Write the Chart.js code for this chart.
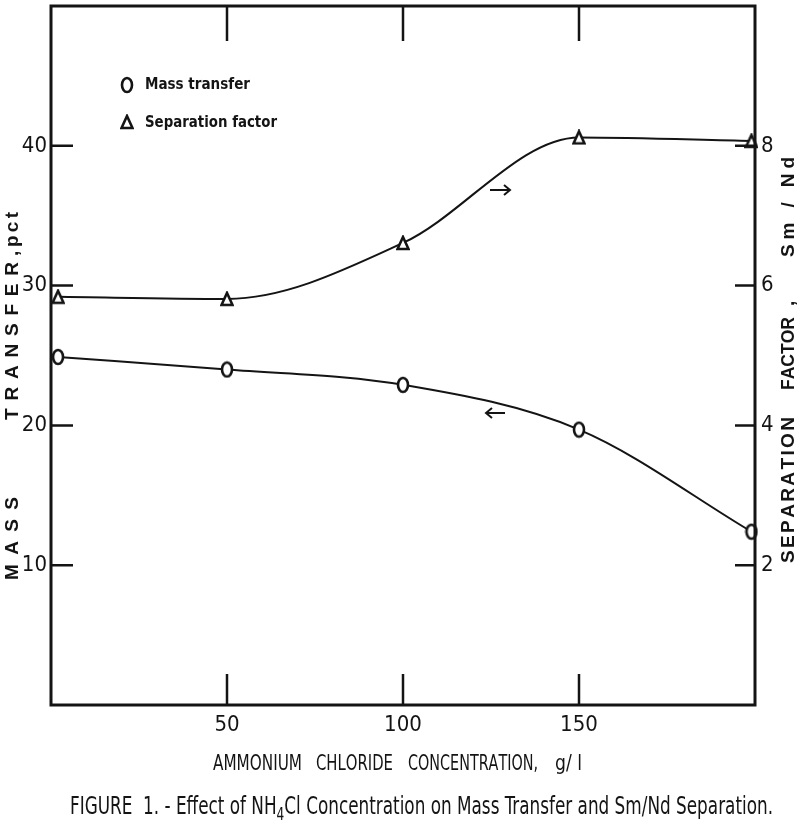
<!DOCTYPE html>
<html>
<head>
<meta charset="utf-8">
<script src="https://cdn.jsdelivr.net/npm/chart.js@4.4.1/dist/chart.umd.min.js"></script>
<style>
  html, body { margin: 0; padding: 0; background: #fff; }
  canvas { display: block; }
</style>
</head>
<body>
<canvas id="chart" width="800" height="839"></canvas>
<script>
// values
const concentration = [2, 50, 100, 150, 199]
const massTransfer = [24.9, 24.0, 22.9, 19.7, 12.4]
const separationFactor = [5.84, 5.81, 6.61, 8.12, 8.07]
const xTicks = [50, 100, 150]
const leftTicks = [10, 20, 30, 40]
const rightTicks = [2, 4, 6, 8]

const NARROW = '"Liberation Sans Narrow", "DejaVu Sans Condensed", "Arial Narrow", "Liberation Sans", sans-serif'
const HEAVY = '"Liberation Sans", "DejaVu Sans", Arial, sans-serif'
const INK = '#141414'

// hand drawn looking markers
function ellipseMarker() {
  const c = document.createElement('canvas')
  c.width = 14; c.height = 18
  const g = c.getContext('2d')
  g.fillStyle = '#fff'
  g.strokeStyle = INK
  g.lineWidth = 2.6
  g.beginPath()
  g.ellipse(7, 9, 5, 7, 0, 0, Math.PI * 2)
  g.fill(); g.stroke()
  return c
}
function triangleMarker() {
  const c = document.createElement('canvas')
  c.width = 14; c.height = 16
  const g = c.getContext('2d')
  g.fillStyle = '#fff'
  g.strokeStyle = INK
  g.lineWidth = 2.6
  g.beginPath()
  g.moveTo(7, 2); g.lineTo(12.5, 14); g.lineTo(1.5, 14); g.closePath()
  g.fill(); g.stroke()
  return c
}
const circlePt = ellipseMarker()
const trianglePt = triangleMarker()

// draw text so it runs from a to b along the current x axis
function spanText(ctx, text, a, b, y) {
  const chars = [...text]
  const widths = chars.map(ch => ctx.measureText(ch).width)
  const natural = widths.reduce((s, w) => s + w, 0)
  let gap = chars.length > 1 ? (b - a - natural) / (chars.length - 1) : 0
  let sx = 1
  if (gap < 0) { sx = (b - a) / natural; gap = 0 }
  let x = a
  chars.forEach((ch, i) => {
    ctx.save()
    ctx.translate(x, y)
    ctx.scale(sx, 1)
    ctx.fillText(ch, 0, 0)
    ctx.restore()
    x += widths[i] * sx + gap
  })
}

const paper = {
  id: 'paper',
  afterDraw(chart) {
    const { ctx, chartArea: area, scales } = chart
    ctx.save()
    ctx.strokeStyle = INK
    ctx.fillStyle = INK

    // frame
    ctx.lineWidth = 3
    ctx.strokeRect(area.left, area.top, area.right - area.left, area.bottom - area.top)

    // inward ticks
    ctx.lineWidth = 2.5
    ctx.beginPath()
    xTicks.forEach(v => {
      const px = scales.x.getPixelForValue(v)
      ctx.moveTo(px, area.bottom); ctx.lineTo(px, area.bottom - 31)
      ctx.moveTo(px, area.top); ctx.lineTo(px, area.top + 35)
    })
    leftTicks.forEach(v => {
      const py = scales.y.getPixelForValue(v)
      ctx.moveTo(area.left, py); ctx.lineTo(area.left + 22, py)
    })
    rightTicks.forEach(v => {
      const py = scales.y2.getPixelForValue(v)
      ctx.moveTo(area.right, py); ctx.lineTo(area.right - 20, py)
    })
    ctx.stroke()

    ctx.textBaseline = 'middle'

    // axis titles
    ctx.font = 'bold 19px ' + HEAVY
    ctx.save()
    ctx.translate(13, 0)
    ctx.rotate(-Math.PI / 2)
    spanText(ctx, 'MASS', -580, -497, 0)
    spanText(ctx, 'TRANSFER', -420, -262, 0)
    spanText(ctx, ',', -256, -251, 0)
    spanText(ctx, 'pct', -247, -212, 0)
    ctx.restore()

    ctx.save()
    ctx.translate(789, 0)
    ctx.rotate(-Math.PI / 2)
    spanText(ctx, 'SEPARATION', -563, -417, 0)
    spanText(ctx, 'FACTOR', -390, -317, 0)
    spanText(ctx, ',', -306, -301, 0)
    spanText(ctx, 'Sm / Nd', -257, -157, 0)
    ctx.restore()

    ctx.font = '21px ' + NARROW
    spanText(ctx, 'AMMONIUM', 213, 302, 765)
    spanText(ctx, 'CHLORIDE', 316, 393, 765)
    spanText(ctx, 'CONCENTRATION,', 408, 538, 765)
    spanText(ctx, 'g/ l', 555, 582, 765)

    // legend
    ctx.drawImage(circlePt, 127 - 7, 85 - 9)
    ctx.drawImage(trianglePt, 127 - 7, 123 - 9)
    ctx.font = 'bold 16px ' + NARROW
    spanText(ctx, 'Mass transfer', 145, 250, 85)
    spanText(ctx, 'Separation factor', 145, 277, 123)

    // direction arrows
    ctx.lineWidth = 2
    ctx.beginPath()
    ctx.moveTo(490, 190); ctx.lineTo(510, 190)
    ctx.moveTo(504, 185); ctx.lineTo(510, 190); ctx.lineTo(504, 195)
    ctx.moveTo(486, 413); ctx.lineTo(505, 413)
    ctx.moveTo(492, 408); ctx.lineTo(486, 413); ctx.lineTo(492, 418)
    ctx.stroke()

    // caption
    const pieces = [
      { t: 'FIGURE  1. - Effect of NH', sub: false },
      { t: '4', sub: true },
      { t: 'Cl Concentration on Mass Transfer and Sm/Nd Separation.', sub: false }
    ]
    const main = '25px ' + NARROW
    const small = '18px ' + NARROW
    let total = 0
    pieces.forEach(p => { ctx.font = p.sub ? small : main; total += ctx.measureText(p.t).width })
    const sx = (773 - 70) / total
    ctx.save()
    ctx.translate(70, 807)
    ctx.scale(sx, 1)
    let cx = 0
    pieces.forEach(p => {
      ctx.font = p.sub ? small : main
      ctx.fillText(p.t, cx, p.sub ? 8 : 0)
      cx += ctx.measureText(p.t).width
    })
    ctx.restore()

    ctx.restore()
  }
}

const tickFont = { family: NARROW, size: 22 }
const pts = values => concentration.map((x, i) => ({ x, y: values[i] }))
const noPad = s => { s.paddingTop = 0; s.paddingBottom = 0; s.paddingLeft = 0; s.paddingRight = 0 }

new Chart(document.getElementById('chart'), {
  type: 'line',
  data: {
    datasets: [
      {
        label: 'Mass transfer',
        data: pts(massTransfer),
        yAxisID: 'y',
        borderColor: INK,
        borderWidth: 2,
        cubicInterpolationMode: 'monotone',
        pointStyle: circlePt,
        clip: false
      },
      {
        label: 'Separation factor',
        data: pts(separationFactor),
        yAxisID: 'y2',
        borderColor: INK,
        borderWidth: 2,
        cubicInterpolationMode: 'monotone',
        pointStyle: trianglePt,
        clip: false
      }
    ]
  },
  options: {
    responsive: false,
    animation: false,
    layout: { padding: { top: 5, left: 0, right: 0, bottom: 0 } },
    plugins: { legend: { display: false }, tooltip: { enabled: false } },
    scales: {
      x: {
        type: 'linear',
        min: 0,
        max: 200,
        grid: { display: false, drawTicks: false },
        border: { display: false },
        ticks: { font: tickFont, color: INK, padding: 7 },
        afterBuildTicks: s => { s.ticks = xTicks.map(value => ({ value })) },
        afterFit: s => { s.height = 134; noPad(s) }
      },
      y: {
        position: 'left',
        min: 0,
        max: 50,
        grid: { display: false, drawTicks: false },
        border: { display: false },
        ticks: { font: tickFont, color: INK, padding: 4 },
        afterBuildTicks: s => { s.ticks = leftTicks.map(value => ({ value })) },
        afterFit: s => { s.width = 51; noPad(s) }
      },
      y2: {
        position: 'right',
        min: 0,
        max: 10,
        grid: { display: false, drawTicks: false },
        border: { display: false },
        ticks: { font: tickFont, color: INK, padding: 6 },
        afterBuildTicks: s => { s.ticks = rightTicks.map(value => ({ value })) },
        afterFit: s => { s.width = 45; noPad(s) }
      }
    }
  },
  plugins: [paper]
})
</script>
</body>
</html>
